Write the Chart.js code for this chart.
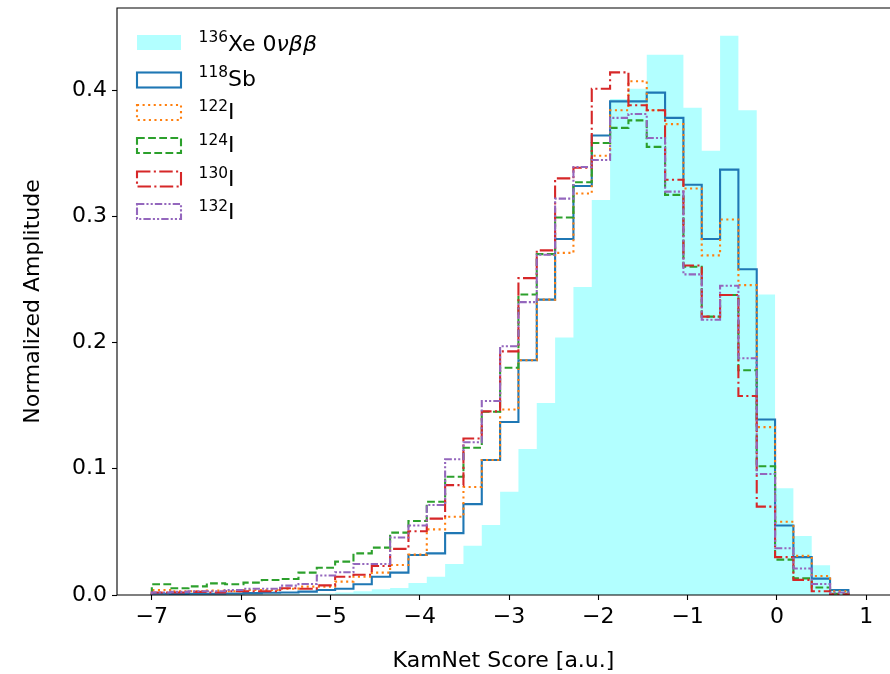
<!DOCTYPE html>
<html>
<head>
<meta charset="utf-8">
<script src="https://cdn.jsdelivr.net/npm/chart.js@4.4.0/dist/chart.umd.min.js"></script>
<style>
  html, body { margin: 0; padding: 0; background: #fff; }
  #wrap { width: 890px; height: 674px; }
</style>
</head>
<body>
<div id="wrap"><canvas id="histChart" width="890" height="674"></canvas></div>
<script>
// Histogram binning: 38 equal bins from -7.0 to 0.8
const binLow = -7.0;
const binHigh = 0.8;
const binCount = 38;

// Normalized amplitude per bin
const xeValues = [
  0.0003, 0.0003, 0.0004, 0.0004, 0.0005, 0.0006, 0.0007, 0.0008, 0.001, 0.0012,
  0.002, 0.003, 0.0045, 0.0055, 0.0095, 0.0145, 0.0245, 0.039, 0.0554, 0.0818,
  0.1156, 0.152, 0.204, 0.244, 0.313, 0.393, 0.401, 0.428, 0.428, 0.386,
  0.352, 0.443, 0.384, 0.238, 0.0845, 0.0467, 0.0235, 0.004
];
const sb118Values = [
  0.001, 0.0008, 0.001, 0.001, 0.0012, 0.0015, 0.0018, 0.002, 0.0027, 0.004,
  0.005, 0.0085, 0.0145, 0.0177, 0.0317, 0.033, 0.049, 0.072, 0.107, 0.137,
  0.186, 0.234, 0.282, 0.324, 0.364, 0.391, 0.391, 0.398, 0.378, 0.325,
  0.282, 0.337, 0.258, 0.139, 0.055, 0.030, 0.013, 0.004
];
const i122Values = [
  0.004, 0.003, 0.003, 0.0035, 0.003, 0.004, 0.004, 0.005, 0.0066, 0.0066,
  0.0106, 0.0145, 0.0177, 0.0238, 0.032, 0.052, 0.062, 0.0855, 0.107, 0.147,
  0.186, 0.234, 0.271, 0.318, 0.348, 0.384, 0.407, 0.384, 0.373, 0.322,
  0.269, 0.2975, 0.2455, 0.133, 0.058, 0.031, 0.015, 0.003
];
const i124Values = [
  0.0085, 0.0053, 0.0068, 0.0092, 0.0085, 0.0098, 0.0119, 0.0127, 0.0177, 0.0216,
  0.0264, 0.033, 0.0375, 0.0494, 0.0586, 0.0739, 0.0937, 0.1167, 0.1452, 0.180,
  0.238, 0.270, 0.299, 0.327, 0.358, 0.370, 0.376, 0.355, 0.317, 0.260,
  0.2205, 0.2376, 0.178, 0.102, 0.028, 0.0132, 0.006, 0.001
];
const i130Values = [
  0.002, 0.002, 0.0025, 0.002, 0.003, 0.003, 0.003, 0.0053, 0.005, 0.0076,
  0.0145, 0.016, 0.023, 0.0365, 0.0505, 0.0605, 0.087, 0.124, 0.1455, 0.193,
  0.251, 0.273, 0.330, 0.3385, 0.401, 0.414, 0.388, 0.384, 0.329, 0.261,
  0.2205, 0.2376, 0.1576, 0.070, 0.030, 0.012, 0.003, 0.0005
];
const i132Values = [
  0.002, 0.0025, 0.003, 0.003, 0.004, 0.005, 0.005, 0.0074, 0.0087, 0.0155,
  0.018, 0.0246, 0.0246, 0.0455, 0.055, 0.0713, 0.1075, 0.121, 0.1537, 0.197,
  0.232, 0.2695, 0.314, 0.339, 0.3446, 0.378, 0.381, 0.362, 0.3195, 0.254,
  0.218, 0.245, 0.1875, 0.0958, 0.037, 0.021, 0.0087, 0.002
];

const xTickValues = [-7, -6, -5, -4, -3, -2, -1, 0, 1];
const yTickValues = [0.0, 0.1, 0.2, 0.3, 0.4];

const binEdges = [];
for (let i = 0; i <= binCount; i++) {
  binEdges.push(binLow + (binHigh - binLow) * i / binCount);
}

// outline of a step histogram, like matplotlib histtype='step'
function stepPoints(values) {
  const pts = [{ x: binEdges[0], y: 0 }];
  values.forEach((v, i) => {
    pts.push({ x: binEdges[i], y: v });
    pts.push({ x: binEdges[i + 1], y: v });
  });
  pts.push({ x: binEdges[values.length], y: 0 });
  return pts;
}

const LW = 2.1;
const FS = 22;
const seriesStyles = [
  { color: '#1f77b4', dash: [] },
  { color: '#ff7f0e', dash: [LW, 1.65 * LW] },
  { color: '#2ca02c', dash: [3.7 * LW, 1.6 * LW] },
  { color: '#d62728', dash: [6.4 * LW, 1.6 * LW, LW, 1.6 * LW] },
  { color: '#9467bd', dash: [3.5 * LW, LW, LW, LW, LW, LW] }
];

const legendEntries = [
  { sup: '136', text: 'Xe 0', italic: 'νββ' },
  { sup: '118', text: 'Sb' },
  { sup: '122', text: 'I' },
  { sup: '124', text: 'I' },
  { sup: '130', text: 'I' },
  { sup: '132', text: 'I' }
];

const FONT = "'DejaVu Sans', sans-serif";
Chart.defaults.font.family = FONT;
Chart.defaults.font.size = FS;
Chart.defaults.color = '#000';

function lineSet(values, style, order) {
  return {
    data: stepPoints(values),
    showLine: true,
    fill: false,
    borderColor: style.color,
    borderWidth: LW,
    borderDash: style.dash,
    pointRadius: 0,
    tension: 0,
    order: order
  };
}

// left, top and bottom spines (the right one falls outside the picture)
const framePlugin = {
  id: 'frame',
  afterDatasetsDraw(chart) {
    const { ctx, chartArea: a } = chart;
    ctx.save();
    ctx.strokeStyle = '#000';
    ctx.lineWidth = 1.1;
    ctx.beginPath();
    ctx.moveTo(a.right + 2, a.top);
    ctx.lineTo(a.left, a.top);
    ctx.lineTo(a.left, a.bottom);
    ctx.lineTo(a.right + 2, a.bottom);
    ctx.stroke();
    ctx.restore();
  }
};

// legend with superscript mass numbers
const legendPlugin = {
  id: 'isoLegend',
  afterDraw(chart) {
    const ctx = chart.ctx;
    const a = chart.chartArea;
    const px = a.left + 20;
    const pw = 44, ph = 15;
    const centers = [42.5, 80, 112.5, 145.5, 179, 211.5];
    const baselines = [51, 85.5, 118.5, 152, 185.5, 218.5];
    const supRaise = [9, 9, 7.5, 7.5, 7.5, 7.5];
    ctx.save();
    legendEntries.forEach((e, i) => {
      const top = centers[i] - ph / 2;
      if (i === 0) {
        ctx.fillStyle = 'rgba(0,255,255,0.3)';
        ctx.fillRect(px, top, pw, ph);
      } else {
        const st = seriesStyles[i - 1];
        ctx.strokeStyle = st.color;
        ctx.lineWidth = LW;
        ctx.setLineDash(st.dash);
        ctx.strokeRect(px, top, pw, ph);
        ctx.setLineDash([]);
      }
      let tx = px + pw + 17.6;
      ctx.fillStyle = '#000';
      ctx.textBaseline = 'alphabetic';
      ctx.textAlign = 'left';
      ctx.font = (FS * 0.7) + 'px ' + FONT;
      ctx.fillText(e.sup, tx, baselines[i] - supRaise[i]);
      tx += ctx.measureText(e.sup).width;
      ctx.font = FS + 'px ' + FONT;
      ctx.fillText(e.text, tx, baselines[i]);
      tx += ctx.measureText(e.text).width;
      if (e.italic) {
        ctx.font = 'italic ' + FS + 'px ' + FONT;
        ctx.fillText(e.italic, tx, baselines[i]);
      }
    });
    ctx.restore();
  }
};

new Chart(document.getElementById('histChart'), {
  type: 'scatter',
  data: {
    datasets: [
      {
        data: stepPoints(xeValues),
        showLine: true,
        fill: 'origin',
        backgroundColor: 'rgba(0,255,255,0.3)',
        borderColor: 'rgba(0,0,0,0)',
        borderWidth: 1,
        pointRadius: 0,
        tension: 0,
        order: 6
      },
      lineSet(sb118Values, seriesStyles[0], 5),
      lineSet(i122Values, seriesStyles[1], 4),
      lineSet(i124Values, seriesStyles[2], 3),
      lineSet(i130Values, seriesStyles[3], 2),
      lineSet(i132Values, seriesStyles[4], 1)
    ]
  },
  options: {
    responsive: false,
    animation: false,
    events: [],
    layout: { padding: { top: 8, right: 0, left: 0, bottom: 0 } },
    plugins: {
      legend: { display: false },
      tooltip: { enabled: false }
    },
    scales: {
      x: {
        type: 'linear',
        min: -7.39,
        max: 1.266,
        afterFit: (s) => { s.height = 79; s.paddingLeft = 0; s.paddingRight = 0; },
        afterBuildTicks: (s) => { s.ticks = xTickValues.map(v => ({ value: v })); },
        ticks: {
          autoSkip: false,
          maxRotation: 0,
          padding: 4,
          callback: (v) => (v < 0 ? '\u2212' + Math.abs(v) : String(v))
        },
        grid: { drawOnChartArea: false, drawTicks: true, tickLength: 5, tickWidth: 1.1, tickColor: '#000' },
        border: { display: false },
        title: { display: true, text: 'KamNet Score [a.u.]', padding: { top: 0, bottom: 0 } }
      },
      y: {
        min: 0,
        max: 0.465,
        afterFit: (s) => { s.width = 117; s.paddingTop = 0; s.paddingBottom = 0; },
        afterBuildTicks: (s) => { s.ticks = yTickValues.map(v => ({ value: v })); },
        ticks: {
          padding: 5,
          callback: (v) => v.toFixed(1)
        },
        grid: { drawOnChartArea: false, drawTicks: true, tickLength: 5, tickWidth: 1.1, tickColor: '#000' },
        border: { display: false },
        title: { display: true, text: 'Normalized Amplitude', padding: { top: 19.8, bottom: 0 } }
      }
    }
  },
  plugins: [framePlugin, legendPlugin]
});
</script>
</body>
</html>
